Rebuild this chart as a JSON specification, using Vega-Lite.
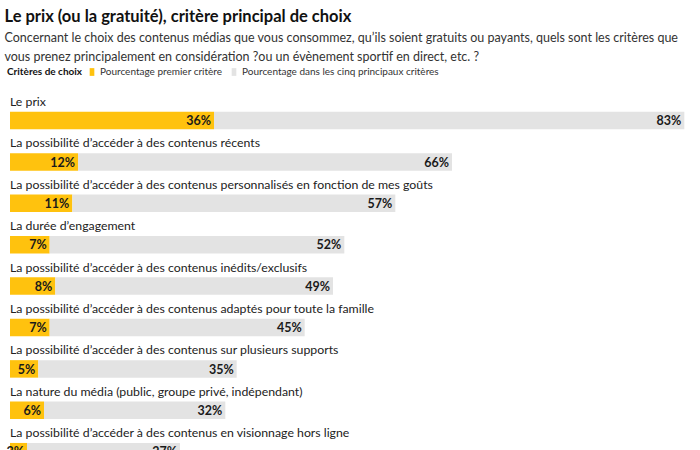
{
  "$schema": "https://vega.github.io/schema/vega-lite/v6.json",
  "autosize": {"type": "none"},
  "width": 680,
  "height": 358,
  "padding": {"left": 10, "top": 92, "right": 10, "bottom": 0},
  "background": "#ffffff",
  "config": {"view": {"stroke": null}, "font": "Lato"},
  "title": {
    "text": "Le prix (ou la gratuité), critère principal de choix",
    "subtitle": ["Concernant le choix des contenus médias que vous consommez, qu’ils soient gratuits ou payants, quels sont les critères que", "vous prenez principalement en considération ?ou un évènement sportif en direct, etc. ?"],
    "anchor": "start",
    "orient": "top",
    "dx": -2,
    "offset": 4,
    "font": "Lato",
    "fontSize": 16.5,
    "fontWeight": "bold",
    "color": "#111111",
    "subtitleFont": "Lato",
    "subtitleFontSize": 12.5,
    "subtitleColor": "#333333",
    "subtitleLineHeight": 19,
    "subtitlePadding": 6
  },
  "data": {"values": [
    {"critere": "Le prix", "rang": 1, "serie": "Pourcentage premier critère", "ord": 1, "value": 36},
    {"critere": "Le prix", "rang": 1, "serie": "Pourcentage dans les cinq principaux critères", "ord": 2, "value": 83},
    {"critere": "La possibilité d’accéder à des contenus récents", "rang": 2, "serie": "Pourcentage premier critère", "ord": 1, "value": 12},
    {"critere": "La possibilité d’accéder à des contenus récents", "rang": 2, "serie": "Pourcentage dans les cinq principaux critères", "ord": 2, "value": 66},
    {"critere": "La possibilité d’accéder à des contenus personnalisés en fonction de mes goûts", "rang": 3, "serie": "Pourcentage premier critère", "ord": 1, "value": 11},
    {"critere": "La possibilité d’accéder à des contenus personnalisés en fonction de mes goûts", "rang": 3, "serie": "Pourcentage dans les cinq principaux critères", "ord": 2, "value": 57},
    {"critere": "La durée d’engagement", "rang": 4, "serie": "Pourcentage premier critère", "ord": 1, "value": 7},
    {"critere": "La durée d’engagement", "rang": 4, "serie": "Pourcentage dans les cinq principaux critères", "ord": 2, "value": 52},
    {"critere": "La possibilité d’accéder à des contenus inédits/exclusifs", "rang": 5, "serie": "Pourcentage premier critère", "ord": 1, "value": 8},
    {"critere": "La possibilité d’accéder à des contenus inédits/exclusifs", "rang": 5, "serie": "Pourcentage dans les cinq principaux critères", "ord": 2, "value": 49},
    {"critere": "La possibilité d’accéder à des contenus adaptés pour toute la famille", "rang": 6, "serie": "Pourcentage premier critère", "ord": 1, "value": 7},
    {"critere": "La possibilité d’accéder à des contenus adaptés pour toute la famille", "rang": 6, "serie": "Pourcentage dans les cinq principaux critères", "ord": 2, "value": 45},
    {"critere": "La possibilité d’accéder à des contenus sur plusieurs supports", "rang": 7, "serie": "Pourcentage premier critère", "ord": 1, "value": 5},
    {"critere": "La possibilité d’accéder à des contenus sur plusieurs supports", "rang": 7, "serie": "Pourcentage dans les cinq principaux critères", "ord": 2, "value": 35},
    {"critere": "La nature du média (public, groupe privé, indépendant)", "rang": 8, "serie": "Pourcentage premier critère", "ord": 1, "value": 6},
    {"critere": "La nature du média (public, groupe privé, indépendant)", "rang": 8, "serie": "Pourcentage dans les cinq principaux critères", "ord": 2, "value": 32},
    {"critere": "La possibilité d’accéder à des contenus en visionnage hors ligne", "rang": 9, "serie": "Pourcentage premier critère", "ord": 1, "value": 3},
    {"critere": "La possibilité d’accéder à des contenus en visionnage hors ligne", "rang": 9, "serie": "Pourcentage dans les cinq principaux critères", "ord": 2, "value": 27}
  ]},
  "transform": [
    {"stack": "value", "groupby": ["critere"], "sort": [{"field": "ord", "order": "ascending"}], "as": ["v0", "v1"]},
    {"calculate": "datum.value + '%'", "as": "label"}
  ],
  "encoding": {
    "y": {"field": "rang", "type": "ordinal", "axis": null,
      "scale": {"range": [0, 372.6], "paddingInner": 0, "paddingOuter": 0}}
  },
  "layer": [
    {
      "mark": {"type": "bar", "height": 17.5, "yOffset": 7.8, "cornerRadius": 0},
      "encoding": {
        "x": {"field": "v0", "type": "quantitative", "axis": null, "scale": {"domain": [0, 120], "nice": false}},
        "x2": {"field": "v1"},
        "color": {"field": "serie", "type": "nominal",
          "scale": {"domain": ["Pourcentage premier critère", "Pourcentage dans les cinq principaux critères"], "range": ["#FFC20E", "#E3E3E3"]},
          "legend": {
            "orient": "none", "legendX": -3, "legendY": -25, "direction": "horizontal",
            "title": "Critères de choix", "titleOrient": "left", "titleFontSize": 10, "titleFontWeight": "bold", "titleColor": "#111111", "titleFont": "Lato",
            "labelFontSize": 10, "labelColor": "#333333", "labelFont": "Lato", "labelLimit": 0,
            "symbolType": "M-0.6,-1L0.6,-1L0.6,1L-0.6,1Z", "symbolSize": 60, "symbolStrokeWidth": 0,
            "columnPadding": 6, "labelOffset": 3, "titlePadding": 4
          }
        }
      }
    },
    {
      "mark": {"type": "text", "align": "right", "baseline": "middle", "dx": -3, "yOffset": 8.5, "fontSize": 12.5, "fontWeight": "bold", "color": "#1a1a1a", "font": "Lato"},
      "encoding": {
        "x": {"field": "v1", "type": "quantitative"},
        "text": {"field": "label"}
      }
    },
    {
      "transform": [{"filter": "datum.ord == 1"}],
      "mark": {"type": "text", "align": "left", "baseline": "middle", "x": 0, "yOffset": -10.7, "fontSize": 12.3, "color": "#222222", "font": "Lato"},
      "encoding": {
        "text": {"field": "critere"}
      }
    }
  ]
}
